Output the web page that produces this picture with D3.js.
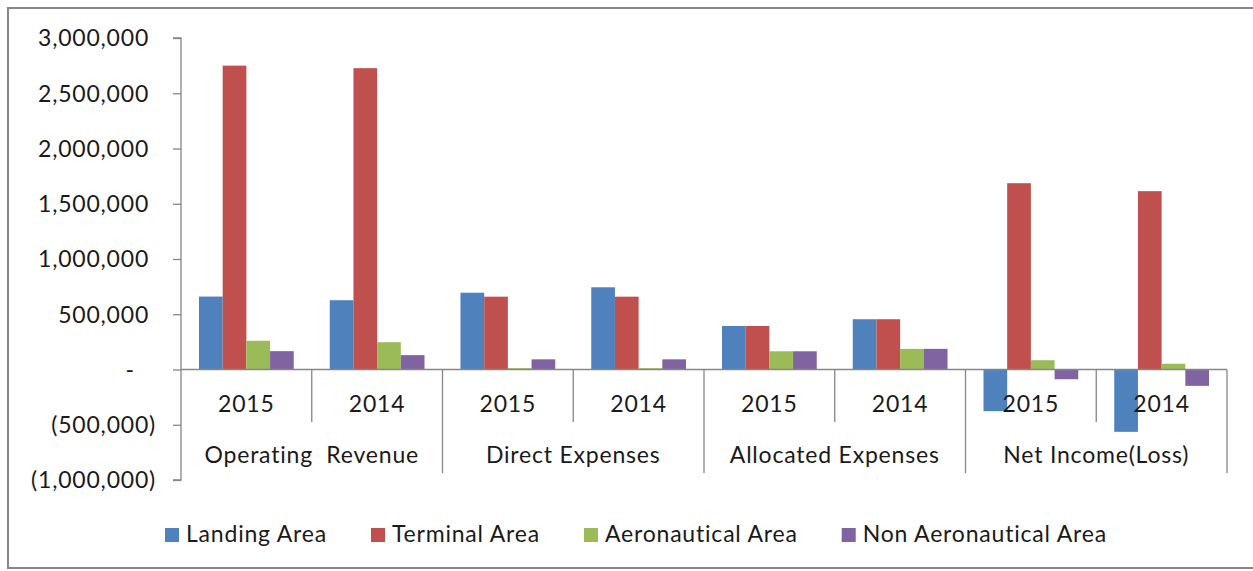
<!DOCTYPE html>
<head>
  <meta charset="utf-8">
  <script src="https://d3js.org/d3.v7.min.js"></script>
  <style>
    body { margin: 0; background: #fff; }
    svg { display: block; }
    text { font-family: Lato, "Open Sans", sans-serif; fill: #1a1a1a; font-size: 23px; letter-spacing: 0.8px; }
  </style>
</head>
<body>
  <svg width="1253" height="571"></svg>
  <script>
    // chart values
    var categories = ['Operating  Revenue', 'Direct Expenses', 'Allocated Expenses', 'Net Income(Loss)'];
    var years = ['2015', '2014'];
    var seriesNames = ['Landing Area', 'Terminal Area', 'Aeronautical Area', 'Non Aeronautical Area'];
    var seriesColors = ['#4f81bd', '#c0504d', '#9bbb59', '#8064a2'];
    // one value per category/year slot: OR15, OR14, DE15, DE14, AE15, AE14, NI15, NI14
    var landing = [660000, 627000, 695000, 744000, 394000, 455000, -377000, -564000];
    var terminal = [2750000, 2727000, 659000, 659000, 394000, 455000, 1686000, 1614000];
    var aeronautical = [260000, 247000, 12000, 12000, 165000, 187000, 84000, 52000];
    var nonAeronautical = [166000, 130000, 92000, 92000, 165000, 187000, -88000, -148000];
    var yTicks = [-1000000, -500000, 0, 500000, 1000000, 1500000, 2000000, 2500000, 3000000];

    var width = 1253;
    var height = 571;
    var margin = { top: 38, bottom: 91, left: 181, right: 26 };
    var axisColor = '#868686';

    var svg = d3.select('svg');

    // outer chart border
    svg.append('rect')
      .attr('x', 8).attr('y', 8)
      .attr('width', 1270).attr('height', 560)
      .attr('fill', 'none')
      .attr('stroke', axisColor)
      .attr('stroke-width', 2);

    var allSeries = [landing, terminal, aeronautical, nonAeronautical];
    var slots = [];
    categories.forEach(function (c, ci) {
      years.forEach(function (y, yi) { slots.push(ci * years.length + yi); });
    });

    var xSlot = d3.scaleBand()
      .domain(slots)
      .range([margin.left, width - margin.right])
      .padding(0);

    var xSeries = d3.scaleBand()
      .domain(d3.range(seriesNames.length))
      .range([0, xSlot.bandwidth()])
      .paddingInner(0)
      .paddingOuter(0.76);

    var yScale = d3.scaleLinear()
      .domain([-1000000, 3000000])
      .range([height - margin.bottom, margin.top]);

    // bars
    var groups = svg.selectAll('g.series')
      .data(allSeries)
      .enter().append('g')
      .attr('class', 'series')
      .attr('fill', function (d, i) { return seriesColors[i]; });

    groups.each(function (values, si) {
      d3.select(this).selectAll('rect')
        .data(values)
        .enter().append('rect')
        .attr('x', function (d, i) { return xSlot(i) + xSeries(si); })
        .attr('width', xSeries.bandwidth())
        .attr('y', function (d) { return yScale(Math.max(0, d)); })
        .attr('height', function (d) { return Math.abs(yScale(d) - yScale(0)); });
    });

    // y axis
    var fmt = d3.format(',');
    var yAxis = d3.axisLeft(yScale)
      .tickValues(yTicks)
      .tickSize(8)
      .tickFormat('');
    var yG = svg.append('g')
      .attr('transform', 'translate(' + margin.left + ',0)')
      .call(yAxis);
    yG.select('.domain').attr('stroke', axisColor).attr('stroke-width', 1.3)
      .attr('d', 'M-8,' + yScale(3000000) + 'H0V' + yScale(-1000000) + 'H-8');
    yG.selectAll('.tick line').attr('stroke', axisColor).attr('stroke-width', 1.3);

    // tick labels, accounting style: (negatives), "-" for zero, aligned on the digits
    var labels = svg.append('g').selectAll('text')
      .data(yTicks)
      .enter().append('text')
      .attr('x', 156)
      .attr('y', function (d) { return yScale(d); })
      .attr('dy', '0.36em')
      .attr('text-anchor', 'end');
    labels.each(function (d) {
      var t = d3.select(this);
      if (d < 0) {
        t.text('(' + fmt(-d) + ')');
      } else if (d === 0) {
        t.append('tspan').text('-');
        t.append('tspan').attr('fill-opacity', 0).text('0)');
      } else {
        t.append('tspan').text(fmt(d));
        t.append('tspan').attr('fill-opacity', 0).text(')');
      }
    });

    // category axis: zero line, dividers, labels
    var y0 = yScale(0);
    var cat = svg.append('g').attr('stroke', axisColor).attr('stroke-width', 1.3);
    cat.append('line')
      .attr('x1', margin.left).attr('x2', width - margin.right)
      .attr('y1', y0).attr('y2', y0);
    slots.forEach(function (s) {
      var xEnd = xSlot(s) + xSlot.bandwidth();
      var isCatEnd = (s % years.length) === years.length - 1;
      cat.append('line')
        .attr('x1', xEnd).attr('x2', xEnd)
        .attr('y1', y0).attr('y2', isCatEnd ? 473 : 422);
    });

    svg.append('g').selectAll('text')
      .data(slots)
      .enter().append('text')
      .attr('x', function (s) { return xSlot(s) + xSlot.bandwidth() / 2; })
      .attr('y', 412)
      .attr('text-anchor', 'middle')
      .text(function (s) { return years[s % years.length]; });

    svg.append('g').selectAll('text')
      .data(categories)
      .enter().append('text')
      .attr('x', function (c, ci) {
        var first = xSlot(ci * years.length);
        var last = xSlot(ci * years.length + years.length - 1) + xSlot.bandwidth();
        return (first + last) / 2;
      })
      .attr('y', 463)
      .attr('text-anchor', 'middle')
      .attr('xml:space', 'preserve')
      .style('white-space', 'pre')
      .text(function (c) { return c; });

    // legend
    var legend = svg.append('g').attr('transform', 'translate(165,0)');
    var lx = 0;
    seriesNames.forEach(function (name, i) {
      var item = legend.append('g').attr('transform', 'translate(' + lx + ',0)');
      item.append('rect')
        .attr('x', 0).attr('y', 528)
        .attr('width', 14).attr('height', 14)
        .attr('fill', seriesColors[i]);
      var label = item.append('text')
        .attr('x', 21).attr('y', 542)
        .text(name);
      lx += 21 + label.node().getComputedTextLength() + 44;
    });
  </script>
</body>
